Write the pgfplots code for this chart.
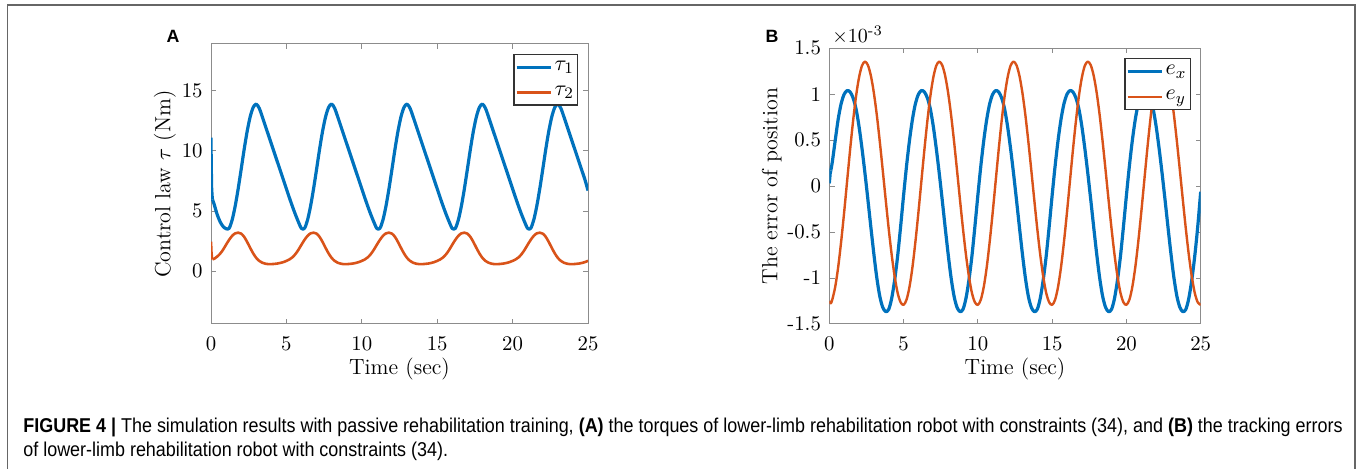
\documentclass[border=0pt]{standalone}
\usepackage{amsmath}
\usepackage{fontspec}
\usepackage{pgfplots}
\usepackage{pgfplotstable}
\pgfplotsset{compat=1.18}
\newfontfamily\capfont[FakeStretch=0.897]{Liberation Sans}
\newfontfamily\labfont{Liberation Sans}
\definecolor{mblue}{rgb}{0,0.447,0.741}
\definecolor{morange}{rgb}{0.85,0.325,0.098}

\pgfplotstableread{
t v
0.1 5.95
0.2 5.6
0.4 4.75
0.6 4.12
0.8 3.72
1.0 3.53
1.2 3.56
1.4 4.25
1.6 5.39
1.8 6.84
2.0 8.47
2.2 10.14
2.4 11.65
2.6 12.85
2.8 13.63
3.0 13.9
3.2 13.55
3.4 12.85
3.6 12.1
3.8 11.35
4.0 10.6
4.2 9.85
4.4 9.1
4.6 8.35
4.8 7.6
5.0 6.85
5.2 6.1
5.4 5.38
5.6 4.7
5.8 4.08
6.0 3.55
6.2 3.56
6.4 4.25
6.6 5.39
6.8 6.84
7.0 8.47
7.2 10.14
7.4 11.65
7.6 12.85
7.8 13.63
8.0 13.9
8.2 13.55
8.4 12.85
8.6 12.1
8.8 11.35
9.0 10.6
9.2 9.85
9.4 9.1
9.6 8.35
9.8 7.6
10.0 6.85
10.2 6.1
10.4 5.38
10.6 4.7
10.8 4.08
11.0 3.55
11.2 3.56
11.4 4.25
11.6 5.39
11.8 6.84
12.0 8.47
12.2 10.14
12.4 11.65
12.6 12.85
12.8 13.63
13.0 13.9
13.2 13.55
13.4 12.85
13.6 12.1
13.8 11.35
14.0 10.6
14.2 9.85
14.4 9.1
14.6 8.35
14.8 7.6
15.0 6.85
15.2 6.1
15.4 5.38
15.6 4.7
15.8 4.08
16.0 3.55
16.2 3.56
16.4 4.25
16.6 5.39
16.8 6.84
17.0 8.47
17.2 10.14
17.4 11.65
17.6 12.85
17.8 13.63
18.0 13.9
18.2 13.55
18.4 12.85
18.6 12.1
18.8 11.35
19.0 10.6
19.2 9.85
19.4 9.1
19.6 8.35
19.8 7.6
20.0 6.85
20.2 6.1
20.4 5.38
20.6 4.7
20.8 4.08
21.0 3.55
21.2 3.56
21.4 4.25
21.6 5.39
21.8 6.84
22.0 8.47
22.2 10.14
22.4 11.65
22.6 12.85
22.8 13.63
23.0 13.9
23.2 13.55
23.4 12.85
23.6 12.1
23.8 11.35
24.0 10.6
24.2 9.85
24.4 9.1
24.6 8.35
24.8 7.6
25.0 6.7
}\tauone

\pgfplotstableread{
t v
0.1 0.98
0.2 1.02
0.4 1.2
0.6 1.44
0.8 1.78
1.0 2.2
1.2 2.6
1.4 2.93
1.6 3.14
1.8 3.2
2.0 3.12
2.2 2.85
2.4 2.42
2.6 1.93
2.8 1.47
3.0 1.1
3.2 0.85
3.4 0.7
3.6 0.62
3.8 0.58
4.0 0.58
4.2 0.6
4.4 0.63
4.6 0.68
4.8 0.75
5.0 0.85
5.2 0.97
5.4 1.15
5.6 1.42
5.8 1.78
6.0 2.2
6.2 2.6
6.4 2.93
6.6 3.14
6.8 3.2
7.0 3.12
7.2 2.85
7.4 2.42
7.6 1.93
7.8 1.47
8.0 1.1
8.2 0.85
8.4 0.7
8.6 0.62
8.8 0.58
9.0 0.58
9.2 0.6
9.4 0.63
9.6 0.68
9.8 0.75
10.0 0.85
10.2 0.97
10.4 1.15
10.6 1.42
10.8 1.78
11.0 2.2
11.2 2.6
11.4 2.93
11.6 3.14
11.8 3.2
12.0 3.12
12.2 2.85
12.4 2.42
12.6 1.93
12.8 1.47
13.0 1.1
13.2 0.85
13.4 0.7
13.6 0.62
13.8 0.58
14.0 0.58
14.2 0.6
14.4 0.63
14.6 0.68
14.8 0.75
15.0 0.85
15.2 0.97
15.4 1.15
15.6 1.42
15.8 1.78
16.0 2.2
16.2 2.6
16.4 2.93
16.6 3.14
16.8 3.2
17.0 3.12
17.2 2.85
17.4 2.42
17.6 1.93
17.8 1.47
18.0 1.1
18.2 0.85
18.4 0.7
18.6 0.62
18.8 0.58
19.0 0.58
19.2 0.6
19.4 0.63
19.6 0.68
19.8 0.75
20.0 0.85
20.2 0.97
20.4 1.15
20.6 1.42
20.8 1.78
21.0 2.2
21.2 2.6
21.4 2.93
21.6 3.14
21.8 3.2
22.0 3.12
22.2 2.85
22.4 2.42
22.6 1.93
22.8 1.47
23.0 1.1
23.2 0.85
23.4 0.7
23.6 0.62
23.8 0.58
24.0 0.58
24.2 0.6
24.4 0.63
24.6 0.68
24.8 0.75
25.0 0.86
}\tautwo

\pgfplotstableread{
t v
0.1 0.17
0.2 0.26
0.4 0.5
0.6 0.73
0.8 0.9
1.0 1.0
1.2 1.04
1.4 1.025
1.6 0.96
1.8 0.84
2.0 0.65
2.2 0.41
2.4 0.14
2.6 -0.15
2.8 -0.45
3.0 -0.74
3.2 -1.0
3.4 -1.2
3.6 -1.32
3.8 -1.366
4.0 -1.34
4.2 -1.22
4.4 -1.02
4.6 -0.76
4.8 -0.44
5.0 -0.1
5.2 0.22
5.4 0.5
5.6 0.73
5.8 0.9
6.0 1.0
6.2 1.04
6.4 1.025
6.6 0.96
6.8 0.84
7.0 0.65
7.2 0.41
7.4 0.14
7.6 -0.15
7.8 -0.45
8.0 -0.74
8.2 -1.0
8.4 -1.2
8.6 -1.32
8.8 -1.366
9.0 -1.34
9.2 -1.22
9.4 -1.02
9.6 -0.76
9.8 -0.44
10.0 -0.1
10.2 0.22
10.4 0.5
10.6 0.73
10.8 0.9
11.0 1.0
11.2 1.04
11.4 1.025
11.6 0.96
11.8 0.84
12.0 0.65
12.2 0.41
12.4 0.14
12.6 -0.15
12.8 -0.45
13.0 -0.74
13.2 -1.0
13.4 -1.2
13.6 -1.32
13.8 -1.366
14.0 -1.34
14.2 -1.22
14.4 -1.02
14.6 -0.76
14.8 -0.44
15.0 -0.1
15.2 0.22
15.4 0.5
15.6 0.73
15.8 0.9
16.0 1.0
16.2 1.04
16.4 1.025
16.6 0.96
16.8 0.84
17.0 0.65
17.2 0.41
17.4 0.14
17.6 -0.15
17.8 -0.45
18.0 -0.74
18.2 -1.0
18.4 -1.2
18.6 -1.32
18.8 -1.366
19.0 -1.34
19.2 -1.22
19.4 -1.02
19.6 -0.76
19.8 -0.44
20.0 -0.1
20.2 0.22
20.4 0.5
20.6 0.73
20.8 0.9
21.0 1.0
21.2 1.04
21.4 1.025
21.6 0.96
21.8 0.84
22.0 0.65
22.2 0.41
22.4 0.14
22.6 -0.15
22.8 -0.45
23.0 -0.74
23.2 -1.0
23.4 -1.2
23.6 -1.32
23.8 -1.366
24.0 -1.34
24.2 -1.22
24.4 -1.02
24.6 -0.76
24.8 -0.44
25.0 -0.06
}\ex

\pgfplotstableread{
t v
0.0 -1.25
0.1 -1.275
0.2 -1.235
0.4 -1.094
0.6 -0.878
0.8 -0.600
1.0 -0.283
1.2 0.057
1.4 0.395
1.6 0.708
1.8 0.978
2.0 1.182
2.2 1.311
2.4 1.355
2.6 1.316
2.8 1.200
3.0 1.014
3.2 0.771
3.4 0.482
3.6 0.168
3.8 -0.154
4.0 -0.466
4.2 -0.748
4.4 -0.984
4.6 -1.162
4.8 -1.264
5.0 -1.292
5.2 -1.235
5.4 -1.094
5.6 -0.878
5.8 -0.600
6.0 -0.283
6.2 0.057
6.4 0.395
6.6 0.708
6.8 0.978
7.0 1.182
7.2 1.311
7.4 1.355
7.6 1.316
7.8 1.200
8.0 1.014
8.2 0.771
8.4 0.482
8.6 0.168
8.8 -0.154
9.0 -0.466
9.2 -0.748
9.4 -0.984
9.6 -1.162
9.8 -1.264
10.0 -1.292
10.2 -1.235
10.4 -1.094
10.6 -0.878
10.8 -0.600
11.0 -0.283
11.2 0.057
11.4 0.395
11.6 0.708
11.8 0.978
12.0 1.182
12.2 1.311
12.4 1.355
12.6 1.316
12.8 1.200
13.0 1.014
13.2 0.771
13.4 0.482
13.6 0.168
13.8 -0.154
14.0 -0.466
14.2 -0.748
14.4 -0.984
14.6 -1.162
14.8 -1.264
15.0 -1.292
15.2 -1.235
15.4 -1.094
15.6 -0.878
15.8 -0.600
16.0 -0.283
16.2 0.057
16.4 0.395
16.6 0.708
16.8 0.978
17.0 1.182
17.2 1.311
17.4 1.355
17.6 1.316
17.8 1.200
18.0 1.014
18.2 0.771
18.4 0.482
18.6 0.168
18.8 -0.154
19.0 -0.466
19.2 -0.748
19.4 -0.984
19.6 -1.162
19.8 -1.264
20.0 -1.292
20.2 -1.235
20.4 -1.094
20.6 -0.878
20.8 -0.600
21.0 -0.283
21.2 0.057
21.4 0.395
21.6 0.708
21.8 0.978
22.0 1.182
22.2 1.311
22.4 1.355
22.6 1.316
22.8 1.200
23.0 1.014
23.2 0.771
23.4 0.482
23.6 0.168
23.8 -0.154
24.0 -0.466
24.2 -0.748
24.4 -0.984
24.6 -1.162
24.8 -1.264
25.0 -1.292
}\ey

\pgfplotsset{
  mystyle/.style={
    scale only axis,
    axis line style={black!45, line width=0.5pt},
    every tick/.style={black!45, line width=0.5pt},
    major tick length=2.6pt,
    tick align=inside,
    xtick pos=both, ytick pos=both,
    xticklabel pos=bottom, yticklabel pos=left,
    xmin=0, xmax=25,
    xtick={0,5,10,15,20,25},
    xticklabels={0,5,10,15,20,25},
    ticklabel style={font=\fontsize{10.4}{12}\selectfont, inner sep=0pt},
    xticklabel style={anchor=north, yshift=-6.3pt},
    yticklabel style={anchor=east, xshift=-4pt},
    label style={font=\fontsize{11}{13}\selectfont},
    xlabel={Time (sec)},
    xlabel style={at={([yshift=-25.5pt]axis description cs:0.5,0)}, anchor=base, inner sep=0pt},
    legend style={draw=black!80, line width=0.6pt, fill=white,
      font=\fontsize{11}{13}\selectfont, at={(1,1)}, anchor=north east,
      xshift=-5pt, yshift=-5pt, inner xsep=0.5pt, inner ysep=1pt, row sep=2pt,
      nodes={inner xsep=1.3pt, inner ysep=2.2pt},
      cells={anchor=west}},
    legend image code/.code={\draw[#1] (0pt,0pt) -- (17pt,0pt);},
  }
}

\begin{document}
\begin{tikzpicture}
\path[use as bounding box] (0,0) rectangle (680pt,234.5pt);
\draw[black!60, line width=0.8pt] (3.75pt,0) -- (3.75pt,232pt) -- (677.5pt,232pt) -- (677.5pt,0);

\begin{axis}[mystyle,
  at={(105.5pt,72.5pt)}, anchor=south west,
  width=188.5pt, height=140pt,
  ymin=-4.4, ymax=18.9,
  ytick={0,5,10,15}, yticklabels={0,5,10,15},
  ylabel={Control law $\tau$ (Nm)},
  ylabel style={at={([xshift=-23pt]axis description cs:0,0.5)}, anchor=center, inner sep=0pt},
]
\addplot[mblue, line width=1.6pt, smooth, line join=round] table[x=t,y=v] {\tauone};
\addlegendentry{$\tau_1$}
\addplot[morange, line width=1.3pt, smooth, line join=round] table[x=t,y=v] {\tautwo};
\addlegendentry{$\tau_2$}
\addplot[mblue, line width=1.6pt, line join=round, forget plot] coordinates {(0,11.1) (0.015,9.0) (0.04,7.0) (0.07,6.3) (0.1,5.95)};
\addplot[morange, line width=1.3pt, line join=round, forget plot] coordinates {(0,2.45) (0.03,1.6) (0.06,1.15) (0.1,0.98)};
\end{axis}

\begin{axis}[mystyle,
  at={(414.65pt,72.5pt)}, anchor=south west,
  width=185.7pt, height=137.85pt,
  ymin=-1.5, ymax=1.5,
  ytick={-1.5,-1,-0.5,0,0.5,1,1.5}, yticklabels={-1.5,-1,-0.5,0,0.5,1,1.5},
  ylabel={The error of position},
  ylabel style={at={([xshift=-28.8pt]axis description cs:0,0.5)}, anchor=center, inner sep=0pt},
]
\addplot[mblue, line width=1.6pt, smooth, line join=round] table[x=t,y=v] {\ex};
\addlegendentry{$e_x$}
\addplot[morange, line width=1.2pt, smooth, line join=round] table[x=t,y=v] {\ey};
\addlegendentry{$e_y$}
\addplot[mblue, line width=1.6pt, line join=round, forget plot] coordinates {(0,0.03) (0.06,0.14) (0.1,0.17)};
\end{axis}

\node[anchor=base west, inner sep=0pt, font=\fontsize{10.4}{12}\selectfont] at (416pt,213pt) {$\times10^{\text{-3}}$};
\node[font=\labfont\bfseries\fontsize{8.9}{10}\selectfont, inner sep=0pt] at (86.5pt,216.5pt) {A};
\node[font=\labfont\bfseries\fontsize{8.9}{10}\selectfont, inner sep=0pt] at (386pt,216.5pt) {B};

\node[anchor=base west, inner sep=0pt, font=\capfont\fontsize{10}{12}\selectfont] at (11.5pt,18pt) {\textbf{FIGURE 4 |} The simulation results with passive rehabilitation training, \textbf{(A)} the torques of lower-limb rehabilitation robot with constraints (34), and \textbf{(B)} the tracking errors};
\node[anchor=base west, inner sep=0pt, font=\capfont\fontsize{10}{12}\selectfont] at (11.5pt,6pt) {of lower-limb rehabilitation robot with constraints (34).};
\end{tikzpicture}
\end{document}
